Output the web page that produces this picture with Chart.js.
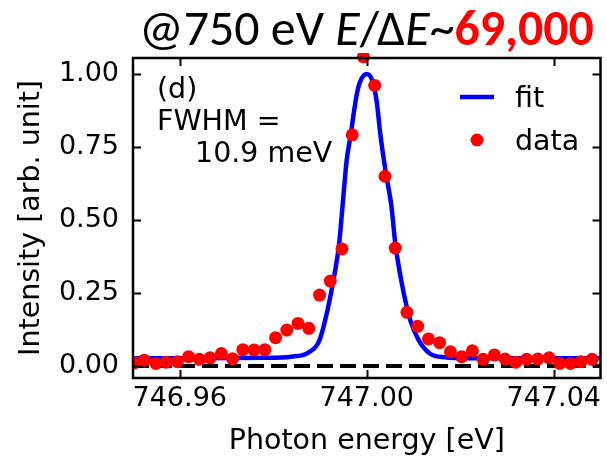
<!DOCTYPE html>
<html>
<head>
<meta charset="utf-8">
<script src="https://cdn.jsdelivr.net/npm/chart.js@4"></script>
<style>
  html, body { margin: 0; padding: 0; background: #fff; }
  #wrap { width: 607px; height: 459px; }
</style>
</head>
<body>
<div id="wrap"><canvas id="resCanvas" width="607" height="459"></canvas></div>
<script>
// measured points (photon energy [eV], normalized intensity)
const dataEnergy = [
    746.9503, 746.9524, 746.9549, 746.9571, 746.9595, 746.9619, 746.9642, 746.9665,
    746.9689, 746.9713, 746.9735, 746.9759, 746.9782, 746.9805, 746.9829, 746.9853,
    746.9876, 746.9899, 746.9922, 746.9947, 746.9969, 746.9993, 747.0017, 747.0039,
    747.0061, 747.0086, 747.0109, 747.0132, 747.0156, 747.0179, 747.0203, 747.0226,
    747.0249, 747.0273, 747.0296, 747.0319, 747.0342, 747.0366, 747.0390, 747.0413,
    747.0436, 747.0458, 747.0482
];
const dataIntensity = [
    0.011, 0.020, 0.009, 0.013, 0.015, 0.032, 0.023, 0.028,
    0.043, 0.025, 0.056, 0.055, 0.056, 0.097, 0.123, 0.146,
    0.129, 0.243, 0.291, 0.401, 0.792, 1.059, 0.961, 0.650,
    0.404, 0.184, 0.136, 0.093, 0.080, 0.049, 0.032, 0.052,
    0.023, 0.038, 0.024, 0.013, 0.023, 0.024, 0.028, 0.009,
    0.009, 0.015, 0.023
];

// fit curve
const fitEnergy = [
    746.9500, 746.9650, 746.9780, 746.9838, 746.9874, 746.9899, 746.9916, 746.9930,
    746.9941, 746.9948, 746.9957, 746.9966, 746.9973, 746.9982, 747.0000, 747.0012,
    747.0021, 747.0029, 747.0040, 747.0053, 747.0061, 747.0075, 747.0093, 747.0111,
    747.0135, 747.0167, 747.0220, 747.0350, 747.0500
];
const fitIntensity = [
    0.027, 0.027, 0.028, 0.032, 0.045, 0.089, 0.191, 0.305,
    0.420, 0.544, 0.704, 0.795, 0.875, 0.955, 1.000, 0.977,
    0.909, 0.795, 0.670, 0.544, 0.420, 0.283, 0.157, 0.089,
    0.043, 0.030, 0.027, 0.027, 0.027
];

// zero reference line
const zeroEnergy = [746.95, 747.05];
const zeroIntensity = [0, 0];

const xTickValues = [746.96, 747.00, 747.04];
const xTickLabels = ["746.96", "747.00", "747.04"];
const yTickValues = [0, 0.25, 0.5, 0.75, 1.0];
const yTickLabels = ["0.00", "0.25", "0.50", "0.75", "1.00"];

const FONT = "'DejaVu Sans', sans-serif";
const FS = 27;     // tick labels
const FS_TXT = 28.5; // axis titles, notes, legend

function toPoints(xs, ys) {
    return xs.map((x, i) => ({ x: x, y: ys[i] }));
}

// frame, inward ticks, legend, notes and the title
const decorPlugin = {
    id: "decor",
    afterDraw(chart) {
        const ctx = chart.ctx;
        const a = chart.chartArea;
        const xs = chart.scales.x;
        const ys = chart.scales.y;
        ctx.save();

        // inward ticks on all four sides
        ctx.strokeStyle = "#000";
        ctx.lineWidth = 2;
        const tl = 8;
        ctx.beginPath();
        xTickValues.forEach((v) => {
            const px = Math.round(xs.getPixelForValue(v)) + 0.5;
            ctx.moveTo(px, a.bottom); ctx.lineTo(px, a.bottom - tl);
            ctx.moveTo(px, a.top); ctx.lineTo(px, a.top + tl);
        });
        yTickValues.forEach((v) => {
            const py = Math.round(ys.getPixelForValue(v)) + 0.5;
            ctx.moveTo(a.left, py); ctx.lineTo(a.left + tl, py);
            ctx.moveTo(a.right, py); ctx.lineTo(a.right - tl, py);
        });
        ctx.stroke();

        // frame
        ctx.lineWidth = 2.5;
        ctx.strokeRect(a.left, a.top, a.right - a.left, a.bottom - a.top);

        // notes
        ctx.fillStyle = "#000";
        ctx.font = `${FS_TXT}px ${FONT}`;
        ctx.textAlign = "left";
        ctx.textBaseline = "alphabetic";
        ctx.fillText("(d)", 157, 98);
        ctx.fillText("FWHM =", 157, 130);
        ctx.fillText("10.9 meV", 195, 162);

        // legend
        const fit = chart.data.datasets[1];
        const dat = chart.data.datasets[0];
        ctx.strokeStyle = fit.borderColor;
        ctx.lineWidth = fit.borderWidth;
        ctx.beginPath();
        ctx.moveTo(460, 97); ctx.lineTo(494, 97);
        ctx.stroke();
        ctx.fillStyle = dat.backgroundColor;
        ctx.beginPath();
        ctx.arc(477, 140, dat.pointRadius, 0, Math.PI * 2);
        ctx.fill();
        ctx.fillStyle = "#000";
        ctx.fillText("fit", 515, 107);
        ctx.fillText("data", 515, 150);

        // title, mixed styles, fitted to its width in the reference
        const tfam = "Carlito, Calibri, Lato, 'Open Sans', sans-serif";
        const parts = [
            ["@750 eV ", "", "#000"],
            ["E", "italic ", "#000"],
            ["/\u0394", "", "#000"],
            ["E", "italic ", "#000"],
            ["~", "", "#000"],
            ["69,000", "bold ", "#ff0000"],
        ];
        const base = 40;
        let w = 0;
        parts.forEach((p) => {
            ctx.font = `${p[1]}${base}px ${tfam}`;
            w += ctx.measureText(p[0]).width;
        });
        const size = base * 455 / w;
        let tx = 139;
        parts.forEach((p) => {
            ctx.font = `${p[1]}${size}px ${tfam}`;
            ctx.fillStyle = p[2];
            ctx.fillText(p[0], tx, 45);
            tx += ctx.measureText(p[0]).width;
        });
        ctx.restore();
    },
};

const ctx = document.getElementById("resCanvas").getContext("2d");
const resChart = new Chart(ctx, {
    type: "scatter",
    data: {
        datasets: [{
            label: "data",
            data: toPoints(dataEnergy, dataIntensity),
            backgroundColor: "#ff0000",
            borderColor: "#ff0000",
            pointRadius: 6.5,
            pointBorderWidth: 0,
            showLine: false,
            order: 0,
            clip: { left: 0, top: 5, right: 0, bottom: 0 },
        }, {
            label: "fit",
            data: toPoints(fitEnergy, fitIntensity),
            borderColor: "#0000ff",
            borderWidth: 4.5,
            pointRadius: 0,
            showLine: true,
            cubicInterpolationMode: "monotone",
            order: 1,
        }, {
            label: "zero",
            data: toPoints(zeroEnergy, zeroIntensity),
            borderColor: "#000",
            borderWidth: 4,
            borderDash: [16, 7],
            pointRadius: 0,
            showLine: true,
            order: 2,
        }],
    },
    options: {
        responsive: false,
        animation: false,
        layout: { padding: { top: 58, right: 3, left: 0, bottom: 0 } },
        plugins: {
            legend: { display: false },
            tooltip: { enabled: false },
        },
        scales: {
            x: {
                type: "linear",
                min: 746.95,
                max: 747.05,
                afterBuildTicks: (s) => { s.ticks = xTickValues.map((v) => ({ value: v })); },
                afterFit: (s) => { s.height = 81; },
                ticks: {
                    color: "#000",
                    font: { family: FONT, size: FS },
                    padding: 5,
                    maxRotation: 0,
                    autoSkip: false,
                    callback: (v, i) => xTickLabels[i],
                },
                grid: { display: false, drawTicks: false },
                border: { display: false },
                title: {
                    display: true,
                    text: "Photon energy [eV]",
                    color: "#000",
                    font: { family: FONT, size: FS_TXT },
                    padding: { top: 0, bottom: 0 },
                },
            },
            y: {
                type: "linear",
                min: -0.041,
                max: 1.055,
                afterBuildTicks: (s) => { s.ticks = yTickValues.map((v) => ({ value: v })); },
                afterFit: (s) => { s.width = 133; },
                ticks: {
                    color: "#000",
                    font: { family: FONT, size: FS },
                    padding: 14,
                    autoSkip: false,
                    callback: (v, i) => yTickLabels[i],
                },
                grid: { display: false, drawTicks: false },
                border: { display: false },
                title: {
                    display: true,
                    text: "Intensity [arb. unit]",
                    color: "#000",
                    font: { family: FONT, size: FS_TXT },
                    padding: { top: 14, bottom: 0 },
                },
            },
        },
    },
    plugins: [decorPlugin],
});
</script>
</body>
</html>
